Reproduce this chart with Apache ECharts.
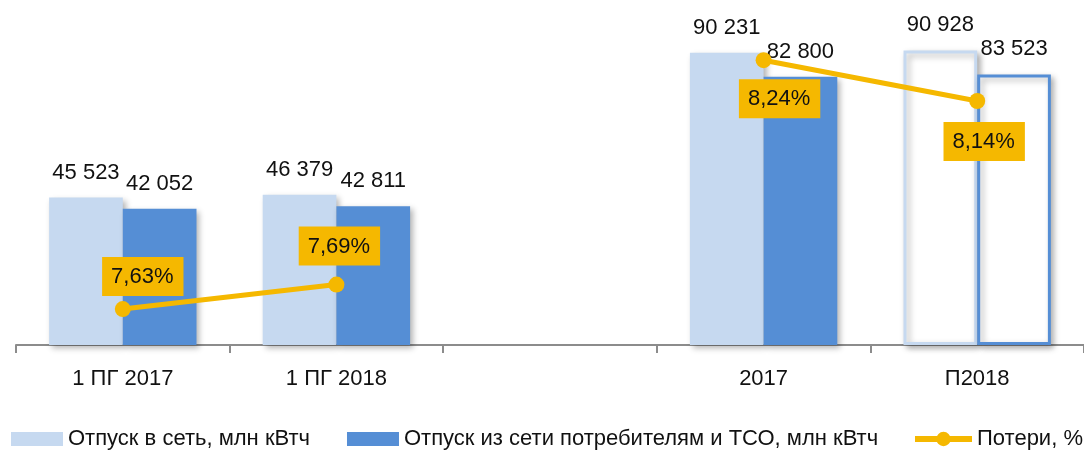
<!DOCTYPE html>
<html>
<head>
<meta charset="utf-8">
<script src="https://cdn.jsdelivr.net/npm/echarts@6/dist/echarts.min.js"></script>
<style>
  html, body { margin: 0; padding: 0; background: #ffffff; }
  #chart { width: 1084px; height: 452px; }
</style>
</head>
<body>
<div id="chart"></div>
<script>
  // данные
  const categories = ['1 ПГ 2017', '1 ПГ 2018', '', '2017', 'П2018'];
  const supplyIn = [45523, 46379, null, 90231, 90928];
  const supplyOut = [42052, 42811, null, 82800, 83523];
  const losses = [7.63, 7.69, null, 8.24, 8.14];
  const seriesNames = ['Отпуск в сеть, млн кВтч', 'Отпуск из сети потребителям и ТСО, млн кВтч', 'Потери, %'];

  const FONT = '"Liberation Sans", Arial, sans-serif';
  const LIGHT = '#C6D9F0';
  const BLUE = '#558ED5';
  const ORANGE = '#F5B800';
  const TEXT = '#111111';

  const fmtNum = (v) => String(v).replace(/\B(?=(\d{3})+(?!\d))/g, ' ');
  const fmtPct = (v) => v.toFixed(2).replace('.', ',') + '%';

  // последний столбец - прогноз, рисуем контуром
  const barData = (values, color) =>
    values.map((v, i) => {
      if (v == null) return null;
      if (i === values.length - 1) {
        return { value: v, itemStyle: { color: '#ffffff', borderColor: color, borderWidth: 3 } };
      }
      return v;
    });

  const labelShift = [[20, 0], [3, -6], [16, 6], [7, 8]]; // сдвиг подписей потерь
  const lossData = [];
  let k = 0;
  losses.forEach((v) => {
    if (v == null) { lossData.push(null); return; }
    const pos = k < 2 ? 'top' : 'bottom';
    lossData.push({ value: v, label: { position: pos, offset: labelShift[k] } });
    k++;
  });

  const barShadow = {
    shadowColor: 'rgba(0,0,0,0.3)',
    shadowBlur: 6,
    shadowOffsetX: 3,
    shadowOffsetY: 3,
  };

  const barLabel = {
    show: true,
    position: 'top',
    distance: 14,
    color: TEXT,
    fontFamily: FONT,
    fontSize: 22,
    formatter: (p) => fmtNum(p.value),
  };

  const legendText = { fontFamily: FONT, fontSize: 22, color: TEXT };

  const myChart = echarts.init(document.getElementById('chart'), null, { renderer: 'canvas' });
  myChart.setOption({
    animation: false,
    textStyle: { fontFamily: FONT },
    grid: { left: 16, right: -2, top: 21, bottom: 107, containLabel: false },
    legend: [
      {
        top: 428,
        left: 11,
        padding: 0,
        icon: 'rect',
        itemWidth: 52,
        itemHeight: 14,
        itemGap: 37,
        textStyle: legendText,
        data: [seriesNames[0], seriesNames[1]],
      },
      {
        top: 428,
        left: 912,
        padding: 0,
        itemWidth: 57,
        itemHeight: 18,
        textStyle: legendText,
        data: [{ name: seriesNames[2], lineStyle: { width: 6 } }],
      },
    ],
    xAxis: {
      type: 'category',
      data: categories,
      axisLine: { lineStyle: { color: '#8c8c8c', width: 2 } },
      axisTick: { show: true, length: 8, lineStyle: { color: '#8c8c8c', width: 2 } },
      axisLabel: { color: TEXT, fontFamily: FONT, fontSize: 22, margin: 23 },
    },
    yAxis: [
      { type: 'value', min: 0, max: 100000, show: false, splitLine: { show: false } },
      { type: 'value', min: 7.542, max: 8.336, show: false, splitLine: { show: false } },
    ],
    series: [
      {
        name: seriesNames[0],
        type: 'bar',
        barGap: '0%',
        barCategoryGap: '31%',
        data: barData(supplyIn, LIGHT),
        itemStyle: Object.assign({ color: LIGHT }, barShadow),
        label: barLabel,
      },
      {
        name: seriesNames[1],
        type: 'bar',
        data: barData(supplyOut, BLUE),
        itemStyle: Object.assign({ color: BLUE }, barShadow),
        label: barLabel,
      },
      {
        name: seriesNames[2],
        type: 'line',
        yAxisIndex: 1,
        data: lossData,
        connectNulls: false,
        symbol: 'circle',
        symbolSize: 16,
        lineStyle: { color: ORANGE, width: 5 },
        itemStyle: { color: ORANGE },
        label: {
          show: true,
          color: TEXT,
          fontFamily: FONT,
          fontSize: 22,
          backgroundColor: ORANGE,
          padding: [9, 10, 8, 9],
          distance: 5,
          formatter: (p) => fmtPct(p.value),
        },
        z: 5,
      },
    ],
  });
</script>
</body>
</html>
